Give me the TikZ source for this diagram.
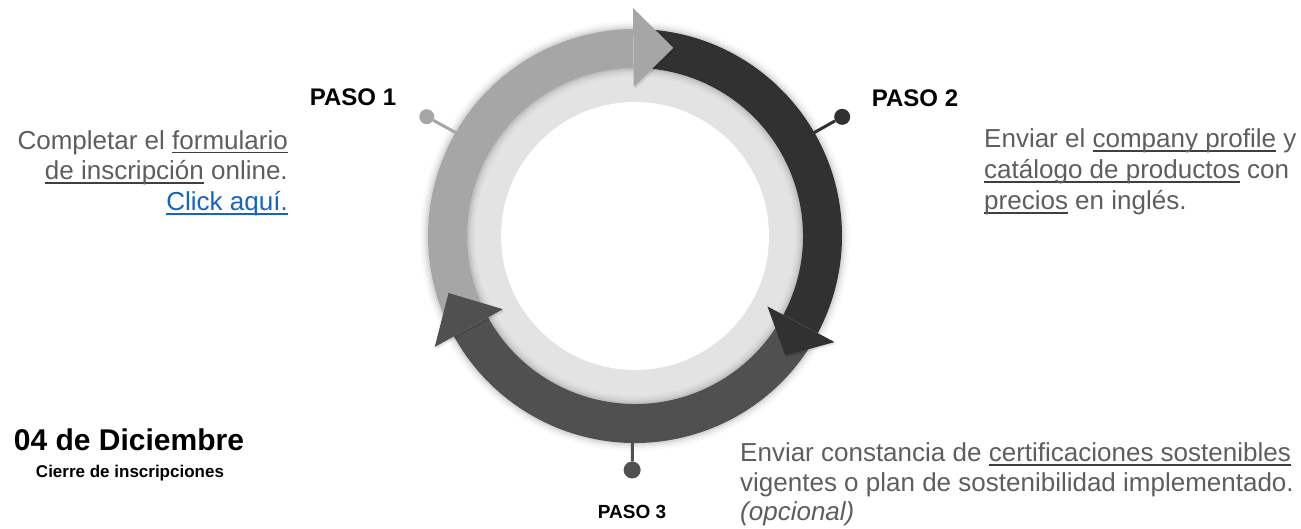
\documentclass[tikz,border=0pt]{standalone}
\usepackage{fontspec}
\setmainfont{Liberation Sans}
\definecolor{cLight}{HTML}{A6A6A6}
\definecolor{cDark}{HTML}{313131}
\definecolor{cMid}{HTML}{505050}
\definecolor{cRing}{HTML}{E3E3E3}
\definecolor{cText}{HTML}{5E5E5E}
\definecolor{cUl}{HTML}{3F3F3F}
\definecolor{cLink}{HTML}{1565C0}
\newcommand\ulc[2]{\setbox0\hbox{#2}\rlap{\color{#1}\rule[-4pt]{\wd0}{1.8pt}}\box0\relax}
\tikzset{
  bodytext/.style={font=\fontsize{26}{30}\selectfont, text=cText, inner sep=0pt},
  pasotext/.style={font=\fontsize{24}{28}\selectfont\bfseries, text=black, inner sep=0pt},
  pindot/.style={circle, inner sep=0pt},
  pinline/.style={line width=3pt},
  headshadow/.style={fill=black, opacity=0.10},
}
\begin{document}
\begin{tikzpicture}[x=1pt,y=1pt]
\fill[white] (0,0) rectangle (1301,529);
\useasboundingbox (0,0) rectangle (1301,529);
\coordinate (C) at (635,293);
\begin{scope}[shift={(C)}]
  % base rings
  \fill[cRing] (0,0) circle[radius=172pt];
  \fill[white] (0,0) circle[radius=134pt];
  % soft shadows of the band
  \foreach \w/\o in {16/0.025, 11/0.035, 7/0.045, 3.5/0.06} {
    \draw[black, opacity=\o, line width=\w pt] (0,0) circle[radius=207pt];
    \draw[black, opacity=\o, line width=\w pt] (0,0) circle[radius=168pt];
  }
  % pins
  \coordinate (e1) at (150:200pt);
  \coordinate (e2) at (30:200pt);
  \coordinate (e3) at (-90.7:200pt);
  \node[pindot, fill=cLight, minimum size=15pt] (d1) at (150.2:240pt) {};
  \node[pindot, fill=cDark, minimum size=16pt] (d2) at (29.9:239pt) {};
  \node[pindot, fill=cMid, minimum size=17pt] (d3) at (-90.7:234pt) {};
  \draw[pinline, cLight] (e1) -- (d1);
  \draw[pinline, cDark] (e2) -- (d2);
  \draw[pinline, cMid] (e3) -- (d3);
  % band bodies
  \fill[cLight] (205:207pt) arc[start angle=205, end angle=90.5, radius=207pt]
     -- (90.5:168pt) arc[start angle=90.5, end angle=205, radius=168pt] -- cycle;
  \fill[cDark] (88:207pt) arc[start angle=88, end angle=-28, radius=207pt]
     -- (-28:168pt) arc[start angle=-28, end angle=88, radius=168pt] -- cycle;
  \fill[cMid] (-31:207pt) arc[start angle=-31, end angle=-151, radius=207pt]
     -- (-151:168pt) arc[start angle=-151, end angle=-31, radius=168pt] -- cycle;
  % arrow heads
  \fill[headshadow] ([shift={(1.5pt,-2pt)}]90.5:149pt) -- ([shift={(1.5pt,-2pt)}]90.5:228pt) -- ([shift={(1.5pt,-2pt)}]78.5:192pt) -- cycle;
  \fill[cLight] (90.5:149pt) -- (90.5:228pt) -- (78.5:192pt) -- cycle;
  \fill[headshadow] ([shift={(1.5pt,-2pt)}]-28:150pt) -- ([shift={(1.5pt,-2pt)}]-28:226pt) -- ([shift={(1.5pt,-2pt)}]-38.5:192pt) -- cycle;
  \fill[cDark] (-28:150pt) -- (-28:226pt) -- (-38.5:192pt) -- cycle;
  \fill[headshadow] ([shift={(1.5pt,-2pt)}]-151:151pt) -- ([shift={(1.5pt,-2pt)}]-151:229pt) -- ([shift={(1.5pt,-2pt)}]-163:195pt) -- cycle;
  \fill[cMid] (-151:151pt) -- (-151:229pt) -- (-163:195pt) -- cycle;
\end{scope}
% step labels
\node[pasotext] (p1) at (353,431.5) {PASO 1};
\node[pasotext] (p2) at (915,431) {PASO 2};
\node[pasotext, font=\fontsize{19}{22}\selectfont\bfseries] (p3) at (632,17.5) {PASO 3};
% step 1 text
\node[bodytext, anchor=base east] (t1a) at (288,379.5) {Completar el \ulc{cUl}{formulario}};
\node[bodytext, anchor=base east] (t1b) at (288,349) {\ulc{cUl}{de inscripción} online.};
\node[bodytext, anchor=base east, text=cLink] (t1c) at (288,318) {\ulc{cLink}{Click aquí.}};
% step 2 text
\node[bodytext, anchor=base west] (t2a) at (984,381) {Enviar el \ulc{cUl}{company profile} y};
\node[bodytext, anchor=base west] (t2b) at (984,350) {\ulc{cUl}{catálogo de productos} con};
\node[bodytext, anchor=base west] (t2c) at (984,319) {\ulc{cUl}{precios} en inglés.};
% step 3 text
\node[bodytext, anchor=base west] (t3a) at (740,67) {Enviar constancia de \ulc{cUl}{certificaciones sostenibles}};
\node[bodytext, anchor=base west] (t3b) at (740,37) {vigentes o plan de sostenibilidad implementado.};
\node[bodytext, anchor=base west] (t3c) at (740,8) {\itshape (opcional)};
% deadline
\node[font=\fontsize{30}{34}\selectfont\bfseries, text=black, inner sep=0pt, anchor=base] (date) at (129,78) {04 de Diciembre};
\node[font=\fontsize{17}{20}\selectfont\bfseries, text=black, inner sep=0pt, anchor=base] (cierre) at (130,51) {Cierre de inscripciones};
\end{tikzpicture}
\end{document}
